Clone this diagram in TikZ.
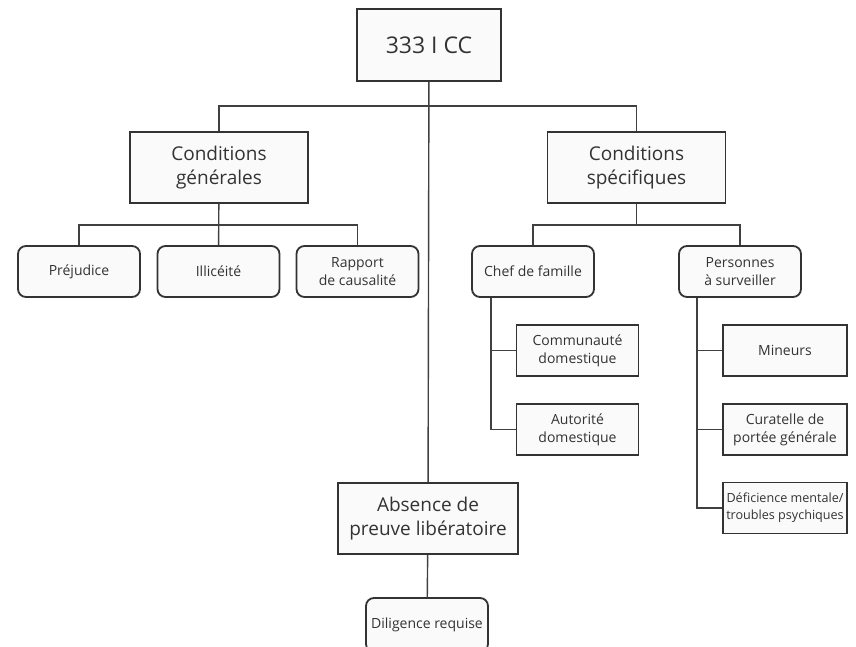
\documentclass[tikz,border=0pt]{standalone}
\usepackage{fontspec}
\setmainfont{Open Sans}
\begin{document}
\begin{tikzpicture}[x=0.5pt, y=-0.5pt,
  bigbox/.style={draw=black!80, line width=0.9pt, fill=black!2, text=black!80, align=center, inner sep=0pt, minimum width=89pt, minimum height=35.5pt, font=\fontsize{9.5}{11.8}\selectfont},
  smallbox/.style={draw=black!80, line width=0.9pt, fill=black!2, text=black!80, align=center, inner sep=0pt, minimum width=61pt, minimum height=25.5pt, font=\fontsize{7}{9}\selectfont},
  roundbox/.style={smallbox, rounded corners=4pt},
  link/.style={draw=black!75, line width=0.7pt}]
\useasboundingbox (0,0) rectangle (856,647);
% top
\node[bigbox, minimum width=72pt, minimum height=36pt, font=\fontsize{11.5}{14}\selectfont] (cc) at (429,45){333 I CC};
\node[bigbox] (gen) at (219,167.5){Conditions\\générales};
\node[bigbox] (spec) at (636.5,167.5){Conditions\\spécifiques};
\node[bigbox, minimum width=90pt] (abs) at (428,518.5){Absence de\\preuve libératoire};
% general conditions
\node[roundbox] (prej) at (79,271.5){Préjudice};
\node[roundbox] (illi) at (218.5,271.5){Illicéité};
\node[roundbox] (caus) at (357.5,271.5){Rapport\\de causalité};
% specific conditions
\node[roundbox] (chef) at (533,271.5){Chef de famille};
\node[roundbox] (pers) at (740,271.5){Personnes\\à surveiller};
\node[smallbox] (comm) at (577.5,350.5){Communauté\\domestique};
\node[smallbox] (auto) at (577.5,429.5){Autorité\\domestique};
\node[smallbox, minimum width=62pt] (mine) at (785,350.5){Mineurs};
\node[smallbox, minimum width=62pt] (cura) at (785,429.5){Curatelle de\\portée générale};
\node[smallbox, minimum width=62pt, font=\fontsize{6.3}{8.6}\selectfont] (defi) at (785,508){Déficience mentale/\\troubles psychiques};
\node[roundbox, minimum height=27pt] (dil) at (427,625){Diligence requise};
% bus points
\coordinate (chefbus) at (491,0);
\coordinate (persbus) at (697,0);
% links
\draw[link](cc) -- (abs);
\draw[link](gen.north) |- (spec.north |- 0,106) -- (spec.north);
\draw[link](prej.north) |- (caus.north |- 0,225) -- (caus.north);
\draw[link](gen) -- (illi);
\draw[link](chef.north) |- (pers.north |- 0,225) -- (pers.north);
\draw[link](spec.south) -- (spec.south |- 0,225);
\draw[link](chefbus |- chef.south) |- (auto.west);
\draw[link](chefbus |- comm.west) -- (comm.west);
\draw[link](persbus |- pers.south) |- (defi.west);
\draw[link](persbus |- mine.west) -- (mine.west);
\draw[link](persbus |- cura.west) -- (cura.west);
\draw[link](abs) -- (dil);
\end{tikzpicture}
\end{document}
